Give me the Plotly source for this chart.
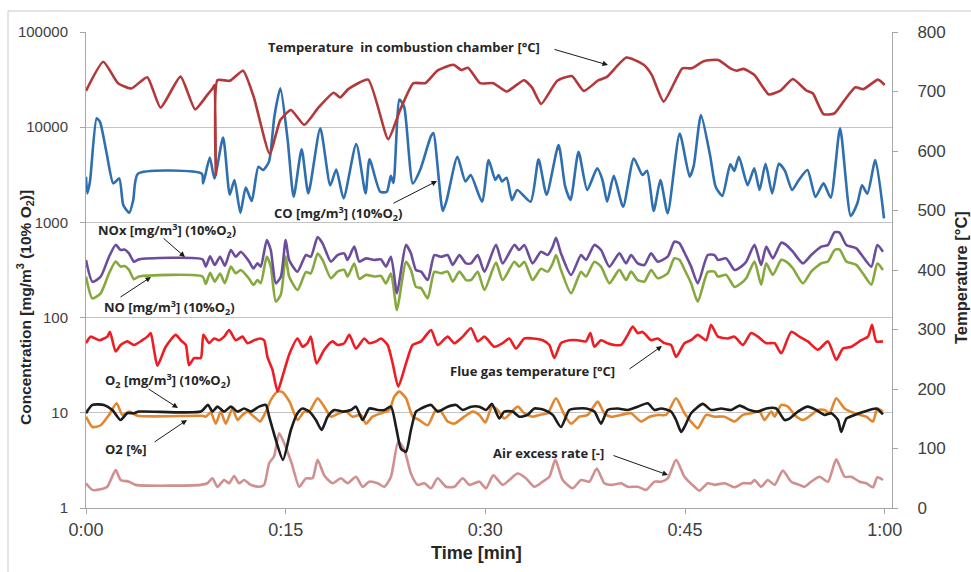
import plotly.graph_objects as go

# ---------------- data ----------------
x_tickvals = [0, 15, 30, 45, 60]
x_ticktext = ["0:00", "0:15", "0:30", "0:45", "1:00"]
y_tickvals = [1, 10, 100, 1000, 10000, 100000]
y_ticktext = ["1", "10", "100", "1000", "10000", "100000"]
y2_tickvals = [0, 100, 200, 300, 400, 500, 600, 700, 800]

# Temperature in combustion chamber [°C] (right axis)
t_chamber = [0, 1.3, 2.4, 3.4, 4.6, 5.6, 7.1, 8.2, 9.1, 9.5, 9.65, 9.75, 9.87, 10.8, 11.8,
             12.6, 13.8, 14.6, 15.4, 16.4, 17.5, 18.6, 19.1, 19.7, 21.2, 22.7, 23.6, 24.6, 25.5, 26.4,
             27.6, 28.2, 28.7, 29.6, 30.6, 31.6, 32.9, 33.5, 34.2, 35.4, 36.5, 37.4, 38.5, 39.1, 40.6,
             41.9, 42.5, 43.4, 44.8, 45.5, 46.4, 47.5, 48.4, 48.9, 49.4, 50.2, 51.3, 52.2, 53.1, 54.1,
             54.6, 55.4, 56.2, 56.9, 57.8, 58.4, 59.5, 60]
temp_chamber = [701, 750, 714, 705, 724, 673, 725, 670, 694, 705, 711, 560, 719, 718, 735,
                691, 595, 652, 669, 644, 674, 698, 690, 704, 720, 620, 669, 714, 714, 735,
                745, 736, 740, 714, 714, 700, 719, 707, 679, 718, 726, 701, 719, 724, 757,
                745, 728, 683, 739, 739, 751, 753, 739, 735, 738, 728, 695, 702, 721, 702,
                697, 662, 663, 683, 707, 704, 720, 711]

# CO [mg/m3] (10% O2)
t_co = [0, 0.1, 0.3, 0.8, 1.05, 1.55, 2.05, 2.5, 2.8, 3.25, 3.55, 3.9, 8.7, 8.8, 9.3, 9.65,
        10.3, 10.8, 11.15, 11.6, 12.0, 12.45, 12.95, 13.3, 13.75, 14.15, 14.6, 15.15, 15.6, 16.2,
        16.7, 17.6, 18.35, 18.8, 19.35, 20.3, 21.0, 21.3, 22.1, 22.6, 22.9, 23.1, 23.55, 23.9,
        24.55, 25.1, 25.9, 26.1, 26.8, 27.1, 27.9, 28.5, 28.9, 29.75, 30.25, 30.75, 31.0, 31.25,
        31.6, 32.0, 32.4, 33.4, 34.0, 34.6, 35.5, 36.0, 36.4, 37.0, 37.65, 38.4, 38.8, 39.15,
        39.65, 40.35, 41.15, 41.8, 42.15, 42.65, 43.15, 43.7, 44.6, 45.35, 45.65, 46.2, 46.9,
        47.3, 47.8, 48.4, 48.7, 49.05, 49.7, 50.2, 50.6, 51.05, 51.55, 52.05, 52.5, 53.05, 53.55,
        54.2, 54.8, 55.4, 55.95, 56.65, 57.45, 57.95, 58.3, 58.7, 59.3, 59.95]
co = [3020, 2020, 2690, 12400, 11400, 5330, 2570, 2900, 1520, 1260, 1720, 3250, 3250, 2570, 4800, 2900,
      7800, 1950, 2790, 1260, 2320, 1680, 3850, 3550, 4350, 12900, 25600, 7330, 1860, 5870,
      2020, 9750, 2460, 3600, 1790, 6650, 2020, 4600, 2100, 2100, 3080, 2600, 19500, 16400,
      2570, 3550, 7950, 8700, 1320, 1720, 4900, 2690, 3150, 1650, 4520, 2790, 3150, 2690,
      2950, 1720, 2190, 1650, 4600, 1950, 6500, 2370, 1720, 5530, 2190, 3700, 2790, 1650,
      3080, 1460, 4700, 3150, 3480, 1320, 2790, 1250, 8600, 3020, 3900, 13400, 4900,
      2370, 1900, 4070, 3480, 4900, 2460, 3700, 2190, 4120, 2020, 4120, 3500, 2190, 2790,
      3550, 1850, 2570, 1820, 9750, 1170, 1590, 2460, 2000, 4520, 1100]

# NOx and NO [mg/m3] (10% O2), sampled at the same times
t_nox = [0, 0.48, 1.1, 1.73, 2.23, 2.6, 2.9, 3.23, 3.6, 3.98,
         8.75, 9.0, 9.32, 9.67, 10.07, 10.43, 10.88, 11.25, 11.63, 12.26,
         12.58, 12.88, 13.13, 13.58, 13.88, 14.26, 14.64, 15.0, 15.26, 15.89,
         16.52, 16.89, 17.4, 17.77, 18.4, 18.9, 19.4, 19.65, 20.15, 20.53,
         21.03, 21.66, 22.16, 22.53, 22.91, 23.36, 23.71, 24.04, 24.41, 24.79,
         25.17, 25.67, 26.17, 26.67, 27.17, 27.55, 28.05, 28.55, 28.92, 29.43,
         29.93, 30.8, 31.3, 32.18, 32.55, 32.93, 33.55, 34.18, 34.68, 35.06,
         35.31, 35.68, 36.44, 37.19, 37.56, 38.19, 38.69, 39.32, 40.07, 40.57,
         40.95, 41.45, 41.95, 42.45, 42.95, 43.7, 44.2, 44.58, 44.96, 45.46,
         45.96, 46.71, 47.22, 47.47, 48.09, 48.72, 49.22, 49.6, 50.22, 50.72,
         51.1, 51.6, 52.23, 52.6, 53.1, 53.86, 54.48, 55.24, 55.74, 56.24,
         56.61, 57.12, 57.87, 58.37, 59.0, 59.45, 59.87]
nox = [403, 238, 269, 436, 580, 513, 520, 473, 387, 409,
       409, 343, 440, 357, 436, 350, 513, 436, 492, 387,
       329, 371, 343, 653, 513, 229, 269, 653, 403, 304,
       454, 436, 700, 603, 387, 454, 473, 403, 556, 387,
       419, 403, 409, 343, 436, 180, 343, 580, 473, 316,
       304, 248, 454, 436, 454, 357, 454, 371, 371, 454,
       304, 580, 371, 580, 513, 580, 371, 492, 454, 556,
       690, 473, 280, 454, 403, 580, 513, 343, 473, 371,
       454, 371, 357, 473, 387, 436, 627, 603, 480, 343,
       229, 454, 454, 403, 419, 316, 343, 387, 580, 357,
       556, 419, 612, 580, 492, 371, 454, 556, 580, 789,
       780, 580, 534, 436, 343, 580, 492]
no = [270, 159, 180, 292, 388, 343, 348, 317, 253, 270,
      270, 225, 295, 239, 290, 230, 343, 292, 316, 255,
      220, 248, 230, 437, 343, 147, 175, 437, 270, 195,
      300, 292, 470, 404, 259, 304, 317, 270, 370, 255,
      281, 270, 274, 229, 290, 120, 228, 386, 317, 210,
      204, 159, 302, 292, 304, 239, 304, 248, 248, 302,
      195, 378, 248, 386, 343, 386, 248, 325, 304, 370,
      455, 317, 180, 302, 270, 386, 343, 229, 317, 248,
      304, 248, 239, 316, 259, 292, 420, 404, 320, 229,
      147, 302, 304, 270, 281, 210, 230, 259, 388, 222,
      372, 281, 405, 388, 330, 229, 304, 372, 388, 513,
      520, 388, 358, 290, 222, 371, 316]

# Flue gas temperature [°C] (right axis)
t_flue = [0, 0.35, 1.0, 1.6, 1.8, 2.23, 2.6, 3.1, 3.6, 4.23,
          4.61, 4.86, 5.11, 5.36, 5.99, 6.74, 7.12, 7.5, 7.74, 8.12,
          8.62, 8.82, 9.25, 9.62, 10.0, 10.38, 10.75, 11.25, 11.75, 12.13,
          12.63, 13.08, 13.38, 13.63, 14.01, 14.39, 14.76, 15.3, 15.89, 16.27,
          16.64, 16.89, 17.32, 17.9, 18.52, 18.9, 19.4, 19.78, 20.28, 20.9,
          21.28, 21.78, 22.16, 22.66, 23.04, 23.46, 24.04, 24.54, 25.17, 25.92,
          26.42, 27.17, 27.67, 28.3, 28.92, 29.43, 29.93, 30.67, 31.3, 31.8,
          32.3, 32.93, 33.55, 34.31, 34.81, 35.18, 35.68, 36.31, 36.94, 37.56,
          37.89, 38.19, 38.69, 39.19, 39.69, 40.2, 40.7, 41.07, 41.45, 41.82,
          42.45, 42.95, 43.45, 43.95, 44.33, 44.96, 45.46, 45.96, 46.59, 46.96,
          47.47, 48.22, 48.72, 49.35, 49.97, 50.47, 51.1, 51.73, 52.23, 52.98,
          53.6, 54.23, 54.98, 55.74, 56.36, 56.86, 57.49, 58.24, 58.75, 59.05,
          59.37, 59.87]
flue_temp = [277, 288, 282, 288, 296, 263, 274, 280, 274, 282,
             288, 294, 266, 239, 271, 291, 282, 274, 240, 252,
             252, 291, 277, 285, 282, 288, 299, 282, 288, 277,
             282, 285, 282, 254, 232, 196, 221, 260, 285, 271,
             277, 288, 243, 266, 280, 274, 277, 291, 268, 285,
             277, 280, 285, 274, 243, 204, 243, 274, 280, 299,
             274, 288, 277, 288, 302, 280, 288, 271, 277, 285,
             268, 285, 285, 282, 274, 252, 277, 282, 282, 280,
             294, 271, 282, 277, 274, 274, 291, 305, 294, 296,
             282, 285, 277, 274, 254, 277, 282, 291, 282, 308,
             288, 285, 288, 274, 294, 288, 277, 277, 260, 296,
             288, 280, 266, 280, 249, 268, 271, 282, 288, 308,
             280, 280]

# O2 [mg/m3] (10% O2)
t_o2mg = [0, 0.48, 1.35, 1.98, 2.6, 3.1, 3.6, 3.98, 8.62, 9.17,
          9.5, 9.87, 10.38, 10.88, 11.38, 11.88, 12.38, 13.0, 13.51, 13.76,
          14.26, 14.8, 15.39, 15.89, 16.27, 16.77, 17.27, 17.7, 18.15, 18.65,
          19.28, 19.9, 20.28, 20.78, 21.28, 21.91, 22.41, 22.91, 23.29, 23.66,
          24.04, 24.41, 24.79, 25.17, 25.92, 26.42, 27.17, 27.8, 28.3, 28.92,
          29.55, 30.05, 30.5, 31.05, 31.42, 32.05, 32.55, 33.18, 33.68, 34.43,
          35.06, 35.68, 36.31, 36.94, 37.56, 38.19, 38.69, 39.19, 39.95, 40.7,
          41.45, 42.2, 42.7, 43.2, 43.95, 44.33, 44.71, 44.96, 45.46, 46.34,
          46.96, 47.72, 48.47, 49.1, 49.85, 50.47, 51.1, 51.85, 52.48, 52.85,
          53.48, 54.23, 54.86, 55.49, 55.99, 56.49, 56.74, 57.12, 57.74, 58.5,
          59.37, 59.87]
o2_mg = [9.9, 12.1, 12.1, 10.7, 8.4, 9.9, 9.9, 10.3, 10.3, 12.1,
         10.3, 11.6, 10.3, 11.6, 10.3, 11.1, 10.3, 11.6, 12.1, 9.1,
         5.2, 3.2, 6.6, 9.9, 11.1, 10.3, 8.4, 6.6, 9.1, 10.7,
         10.3, 10.7, 11.6, 8.4, 11.1, 10.7, 10.7, 11.6, 7.1, 4.2,
         3.9, 6.6, 10.3, 11.1, 12.1, 10.3, 11.6, 12.1, 10.7, 11.6,
         11.6, 10.7, 12.4, 8.7, 10.3, 10.3, 9.1, 9.5, 11.1, 10.7,
         9.5, 7.1, 10.7, 11.1, 11.1, 10.3, 7.7, 10.7, 11.1, 10.7,
         11.6, 12.6, 10.7, 11.1, 10.3, 8.4, 6.3, 7.1, 9.9, 12.4,
         10.7, 11.1, 10.7, 11.9, 10.7, 10.3, 11.1, 11.1, 8.4, 8.7,
         10.3, 11.6, 10.7, 9.5, 9.9, 8.4, 6.3, 8.7, 9.5, 10.3,
         11.1, 9.6]

# O2 [%]
t_o2pct = [0, 0.48, 1.1, 1.73, 2.3, 2.73, 3.23, 3.86, 8.75, 9.0,
           9.37, 9.75, 10.12, 10.5, 11.0, 11.38, 11.75, 12.13, 12.63, 13.08,
           13.51, 13.88, 14.39, 14.76, 15.3, 15.89, 16.39, 16.77, 17.4, 17.9,
           18.4, 19.03, 19.53, 20.03, 20.65, 21.03, 21.53, 22.16, 22.78, 23.16,
           23.54, 24.04, 24.54, 25.04, 25.67, 26.29, 26.67, 27.17, 27.67, 28.42,
           29.05, 29.55, 30.0, 30.5, 30.92, 31.42, 32.43, 32.93, 33.55, 34.06,
           34.68, 35.31, 35.94, 36.44, 37.06, 37.69, 38.44, 38.94, 39.44, 40.2,
           40.95, 41.7, 42.33, 42.95, 43.58, 44.33, 44.96, 45.58, 45.96, 46.59,
           47.22, 47.97, 48.72, 49.35, 49.97, 50.6, 50.97, 51.48, 51.73, 52.23,
           52.73, 53.23, 53.86, 54.48, 54.98, 55.49, 55.86, 56.36, 56.99, 57.74,
           58.62, 59.12, 59.45, 59.87]
o2_pct = [9.1, 7.1, 7.4, 9.5, 12.6, 9.5, 10.3, 9.3, 9.3, 9.1,
          10.1, 7.7, 10.3, 7.7, 11.1, 8.4, 9.5, 10.3, 9.1, 8.1,
          10.3, 13.6, 16.7, 16.5, 13.0, 8.4, 10.3, 10.3, 14.2, 11.6,
          9.1, 9.9, 10.3, 9.1, 9.5, 7.7, 9.1, 9.9, 10.7, 14.8,
          16.7, 14.2, 9.1, 8.4, 7.4, 10.7, 10.3, 8.1, 7.7, 9.1,
          10.3, 9.5, 7.9, 11.6, 10.7, 8.7, 11.6, 9.9, 9.1, 9.5,
          9.9, 14.2, 9.5, 7.7, 9.1, 9.5, 13.1, 9.9, 9.1, 9.5,
          9.9, 8.1, 9.1, 9.5, 9.5, 14.2, 9.9, 7.7, 6.9, 9.5,
          9.1, 9.1, 8.1, 9.5, 9.9, 10.3, 8.4, 10.3, 9.1, 12.1,
          11.6, 9.5, 8.4, 9.5, 10.7, 10.7, 9.9, 14.2, 11.1, 9.9,
          9.1, 8.1, 11.1, 10.3]

# Air excess rate [-]
t_air = [0, 0.48, 1.1, 1.6, 2.23, 2.6, 3.23, 3.73, 8.62, 9.12,
         9.5, 9.87, 10.38, 10.75, 11.13, 11.5, 11.88, 12.38, 13.0, 13.38,
         13.76, 14.13, 14.51, 14.89, 15.45, 16.02, 16.52, 17.02, 17.4, 17.9,
         18.52, 19.15, 19.65, 20.28, 20.78, 21.28, 21.91, 22.41, 22.91, 23.46,
         23.91, 24.41, 24.91, 25.42, 25.92, 26.42, 27.05, 27.67, 28.3, 28.8,
         29.55, 30.05, 30.6, 31.3, 31.8, 32.43, 33.05, 33.68, 34.31, 34.81,
         35.26, 35.81, 36.56, 37.19, 37.81, 38.37, 38.94, 39.57, 40.2, 40.7,
         41.45, 42.08, 42.7, 43.2, 43.7, 44.33, 44.96, 45.71, 46.09, 46.71,
         47.22, 47.97, 48.72, 49.35, 49.97, 50.22, 50.72, 51.22, 51.73, 52.35,
         52.98, 53.6, 53.98, 54.48, 55.11, 55.74, 56.36, 56.99, 57.49, 58.12,
         58.62, 59.12, 59.45, 59.87]
air_excess = [1.82, 1.55, 1.57, 1.67, 2.5, 1.97, 1.89, 1.75, 1.75, 1.82,
              2.05, 1.67, 1.97, 1.82, 2.17, 1.82, 1.97, 1.75, 1.67, 1.75,
              2.95, 3.5, 6.1, 4.8, 2.95, 1.67, 2.05, 2.05, 3.2, 2.2,
              1.82, 2.05, 1.82, 2.13, 1.67, 1.89, 1.82, 1.67, 2.13, 5.0,
              4.1, 2.3, 1.75, 1.82, 1.61, 2.05, 1.67, 1.67, 2.05, 1.75,
              1.89, 1.61, 2.2, 1.75, 1.97, 2.3, 2.05, 1.67, 1.89, 2.13,
              3.2, 1.97, 1.61, 1.97, 1.89, 2.6, 1.82, 1.75, 1.82, 1.67,
              1.67, 1.55, 1.89, 1.89, 2.05, 3.2, 2.13, 1.67, 1.52, 1.82,
              1.75, 1.82, 1.65, 1.82, 1.82, 1.97, 1.67, 1.97, 1.75, 2.47,
              1.89, 1.75, 1.67, 1.89, 2.13, 1.89, 3.25, 2.13, 2.13, 1.89,
              1.82, 1.65, 2.1, 1.97]

# ---------------- figure ----------------
W, H = 971, 572
ML, MR, MT, MB = 86, 79, 32, 64
PW, PH = W - ML - MR, H - MT - MB


def px(X):
    return (X - ML) / PW


def py(Y):
    return (H - MB - Y) / PH


fig = go.Figure()


def add_line(t, v, color, axis="y", width=2.6, smooth=0.6):
    fig.add_trace(go.Scatter(x=t, y=v, mode="lines", yaxis=axis,
                             line=dict(color=color, width=width, shape="spline", smoothing=smooth),
                             hoverinfo="skip", showlegend=False))


add_line(t_air, air_excess, "#D09090")
add_line(t_o2pct, o2_pct, "#E2872F")
add_line(t_o2mg, o2_mg, "#1C1C1C")
add_line(t_nox, no, "#86A93F")
add_line(t_nox, nox, "#6C4D9C")
add_line(t_co, co, "#2F6EAF")
add_line(t_flue, flue_temp, "#EE1D23", axis="y2")
add_line(t_chamber, temp_chamber, "#B2383A", axis="y2", smooth=0.5)

tick_font = "Liberation Sans, Arial, sans-serif"
axis_col = "#A6A6A6"
fig.update_layout(
    width=W, height=H,
    margin=dict(l=ML, r=MR, t=MT, b=MB),
    paper_bgcolor="white", plot_bgcolor="white",
    showlegend=False,
    xaxis=dict(range=[0, 60.55], tickvals=x_tickvals, ticktext=x_ticktext,
               ticks="outside", ticklen=5, tickcolor=axis_col, showline=True,
               linecolor=axis_col, linewidth=1, showgrid=False, zeroline=False,
               tickfont=dict(family=tick_font, size=18, color="#404040"),
               ticklabelstandoff=0),
    yaxis=dict(type="log", range=[0, 5], tickvals=y_tickvals, ticktext=y_ticktext,
               ticks="outside", ticklen=5, tickcolor=axis_col, showline=True,
               linecolor=axis_col, linewidth=1, showgrid=True, gridcolor="#C4C4C4",
               gridwidth=1, zeroline=False,
               tickfont=dict(family=tick_font, size=15, color="#404040"),
               ticklabelstandoff=9),
    yaxis2=dict(range=[0, 800], tickvals=y2_tickvals, overlaying="y", side="right",
                ticks="outside", ticklen=5, tickcolor=axis_col, showline=True,
                linecolor=axis_col, linewidth=1, showgrid=False, zeroline=False,
                tickfont=dict(family=tick_font, size=17, color="#404040"),
                ticklabelstandoff=16),
)

# outer frame
fig.add_shape(type="rect", xref="paper", yref="paper",
              x0=px(8), y0=py(600), x1=px(1000), y1=py(11),
              line=dict(color="#C8C8C8", width=1), fillcolor="rgba(0,0,0,0)", layer="below")

title_font = dict(family=tick_font, size=15.5, color="#262626")
fig.add_annotation(x=px(25), y=py(308), xref="paper", yref="paper", showarrow=False,
                   text="<b>Concentration [mg/m<sup>3</sup> (10% O<sub>2</sub>)]</b>",
                   textangle=-90, font=title_font, xanchor="center", yanchor="middle")
fig.add_annotation(x=px(961), y=py(278), xref="paper", yref="paper", showarrow=False,
                   text="<b>Temperature [°C]</b>", textangle=-90,
                   font=dict(family=tick_font, size=16.5, color="#262626"),
                   xanchor="center", yanchor="middle")
fig.add_annotation(x=px(476), y=py(553), xref="paper", yref="paper", showarrow=False,
                   text="<b>Time [min]</b>", font=dict(family=tick_font, size=18, color="#262626"),
                   xanchor="center", yanchor="middle")

lab_font = dict(family="Open Sans, sans-serif", size=13, color="#262626")
labels = [
    ("<b>Temperature  in combustion chamber [°C]</b>", 404, 47),
    ("<b>CO [mg/m<sup>3</sup>] (10%O<sub>2</sub>)</b>", 338, 213),
    ("<b>NOx [mg/m<sup>3</sup>] (10%O<sub>2</sub>)</b>", 167, 231),
    ("<b>NO [mg/m<sup>3</sup>] (10%O<sub>2</sub>)</b>", 169, 308),
    ("<b>O<sub>2</sub> [mg/m<sup>3</sup>] (10%O<sub>2</sub>)</b>", 167, 380),
    ("<b>O2 [%]</b>", 125, 449),
    ("<b>Flue gas temperature [°C]</b>", 532, 371),
    ("<b>Air excess rate [-]</b>", 548, 453),
]
for txt, cx, cy in labels:
    fig.add_annotation(x=px(cx), y=py(cy), xref="paper", yref="paper", showarrow=False,
                       text=txt, font=lab_font, xanchor="center", yanchor="middle")

arrows = [  # (tail_x, tail_y, head_x, head_y) in pixels
    (553, 49, 608, 65),
    (392, 204, 437, 181),
    (162, 237, 185, 257),
    (119, 298, 151, 277),
    (147, 388, 178, 408),
    (153, 443, 187, 420),
    (628, 370, 662, 346),
    (612, 455, 668, 475),
]
for tx, ty, hx, hy in arrows:
    fig.add_annotation(x=px(hx), y=py(hy), xref="paper", yref="paper",
                       ax=tx - hx, ay=ty - hy, axref="pixel", ayref="pixel",
                       text="", showarrow=True, arrowhead=2, arrowsize=1.1,
                       arrowwidth=1, arrowcolor="#1A1A1A", standoff=0, startstandoff=0)

fig.write_html("out.html",
               config={"displayModeBar": False, "staticPlot": True},
               post_script="document.body.style.margin='0';document.body.style.padding='0';")
